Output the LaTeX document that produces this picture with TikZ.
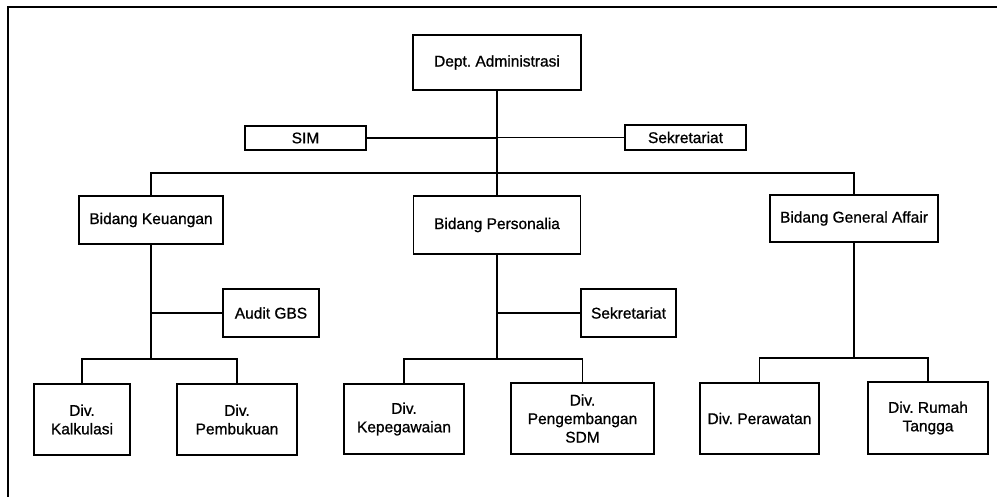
\documentclass[tikz,border=0pt]{standalone}
\usepackage{fontspec}
\newfontfamily\chartfont{Liberation Sans}[FakeBold=0.9]
\frenchspacing
\begin{document}
\begin{tikzpicture}[x=1pt,y=-1pt,
  unit/.style={draw, line width=1.8pt, inner sep=0pt, align=center,
    font=\chartfont\fontsize{15.5}{18.5}\selectfont},
  link/.style={line width=1.5pt}]
\useasboundingbox (0,0) rectangle (997,497);
% frame
\draw[line width=1.8pt] (8,497) -- (8,7) -- (997,7);

% top level
\node[unit, minimum width=168, minimum height=55] (dept) at (497,62.5) {Dept. Administrasi};
\node[unit, minimum width=121, minimum height=24] (sim) at (305.5,138) {SIM};
\node[unit, minimum width=121, minimum height=25] (sek) at (685.5,137.5) {Sekretariat};

% bidang
\node[unit, minimum width=144, minimum height=48] (keu) at (151,220) {Bidang Keuangan};
\node[unit, minimum width=167, minimum height=58] (per) at (497,225) {Bidang Personalia};
\node[unit, minimum width=168, minimum height=47] (ga) at (854,218.5) {Bidang General Affair};

% staff units
\node[unit, minimum width=96, minimum height=48] (audit) at (271,313) {Audit GBS};
\node[unit, minimum width=95, minimum height=48] (sek2) at (628.5,313) {Sekretariat};

% divisions
\node[unit, minimum width=96, minimum height=71] (kalk) at (82,419.5) {Div.\\Kalkulasi};
\node[unit, minimum width=120, minimum height=71] (pemb) at (237,419.5) {Div.\\Pembukuan};
\node[unit, minimum width=120, minimum height=70] (kepeg) at (404,419) {Div.\\Kepegawaian};
\node[unit, minimum width=143, minimum height=71] (sdm) at (582.5,418.5) {Div.\\Pengembangan\\SDM};
\node[unit, minimum width=119, minimum height=71] (perw) at (759.5,418.5) {Div. Perawatan};
\node[unit, minimum width=120, minimum height=72] (rt) at (928,418) {Div. Rumah\\Tangga};

% junction points
\coordinate (bus) at (497,173);
\coordinate (kb) at (151,359);
\coordinate (pb) at (497,359);
\coordinate (gb) at (854,358);

% connectors
\draw[link] (dept.south) -- (per.north);
\draw[link] (sim.east) -- (sim.east -| dept.south);
\draw[link] (sek.west) -- (sek.west -| dept.south);
\draw[link] (keu.north) |- (bus) -| (ga.north);

\draw[link] (keu.south) -- (kb);
\draw[link] (audit.west) -- (audit.west -| keu.south);
\draw[link] (kalk.north) |- (kb) -| (pemb.north);

\draw[link] (per.south) -- (pb);
\draw[link] (sek2.west) -- (sek2.west -| per.south);
\draw[link] (kepeg.north) |- (pb) -| (sdm.north);

\draw[link] (ga.south) -- (gb);
\draw[link] (perw.north) |- (gb) -| (rt.north);
\end{tikzpicture}
\end{document}
